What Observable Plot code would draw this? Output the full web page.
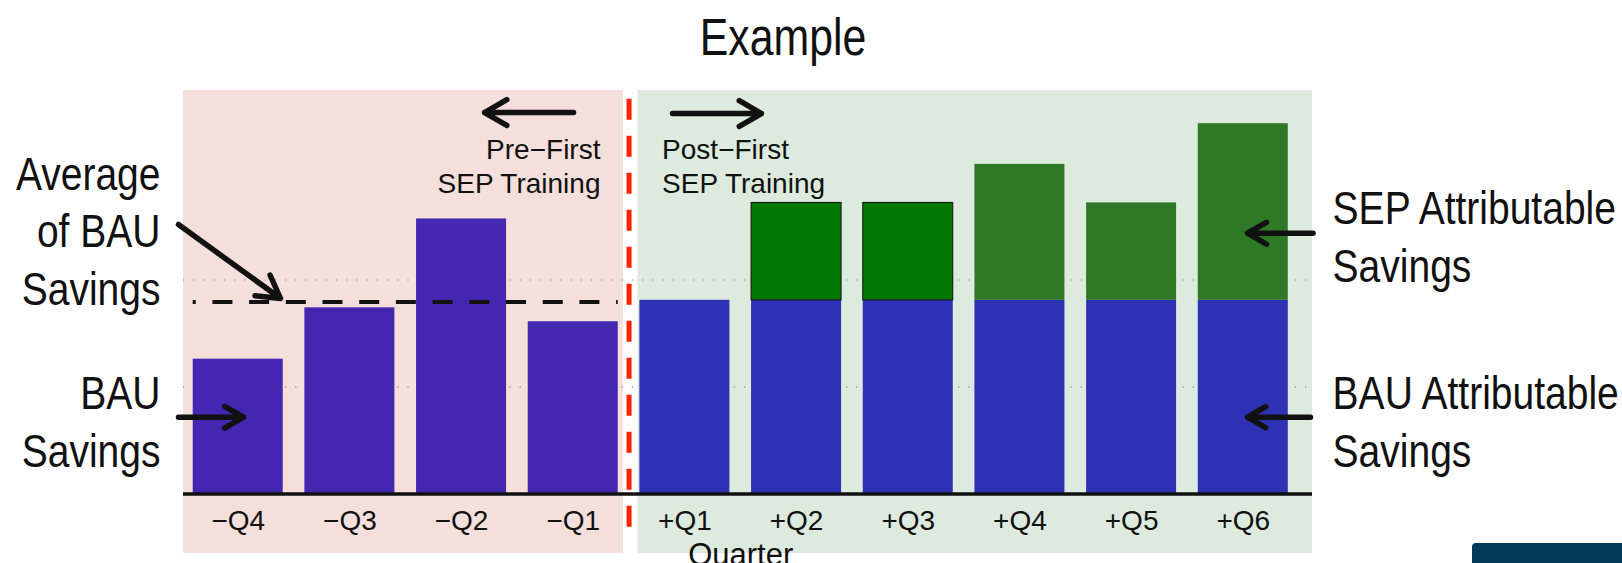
<!DOCTYPE html>
<html>
<head>
<meta charset="utf-8">
<script src="https://cdn.jsdelivr.net/npm/d3@7"></script>
<script src="https://cdn.jsdelivr.net/npm/@observablehq/plot@0.6"></script>
<style>
  body { margin: 0; background: #fff; }
  #wrap { position: relative; width: 1622px; height: 563px; overflow: hidden; }
  #title {
    position: absolute; left: 633px; width: 300px; top: 8px;
    text-align: center; line-height: 1;
    font: 51px "Liberation Sans", Arial, sans-serif;
    color: #111;
    transform: scaleX(0.84); transform-origin: 150px 0;
  }
  #badge {
    position: absolute; left: 1472px; top: 543px; width: 170px; height: 40px;
    background: #023a5b; border-radius: 4px;
  }
</style>
</head>
<body>
<div id="wrap">
  <div id="chart"></div>
  <div id="title">Example</div>
  <div id="badge"></div>
</div>
<script>
// Quarters before and after the first SEP training
const preQuarters = ["−Q4", "−Q3", "−Q2", "−Q1"];
const postQuarters = ["+Q1", "+Q2", "+Q3", "+Q4", "+Q5", "+Q6"];

// Business-as-usual savings observed before the training
const bauSavings = [1.26, 1.74, 2.57, 1.61];

// After the training: the BAU baseline part and the part attributed to SEP
const bauAttributable = [1.81, 1.81, 1.81, 1.81, 1.81, 1.81];
const sepAttributable = [0, 0.91, 0.91, 1.27, 0.91, 1.65];

// Dotted reference lines
const gridValues = [1, 2];

// Callout labels and their arrows
const calloutLabels = [
  {text: "Pre−First\nSEP Training", x: 3.244, y: 3.072, anchor: "end", size: 28, lh: 1.2},
  {text: "Post−First\nSEP Training", x: 3.796, y: 3.072, anchor: "start", size: 28, lh: 1.2},
  {text: "Average\nof BAU\nSavings", x: -0.696, y: 2.477, anchor: "end", size: 47, lh: 1.22},
  {text: "BAU\nSavings", x: -0.696, y: 0.697, anchor: "end", size: 47, lh: 1.245},
  {text: "SEP Attributable\nSavings", x: 9.80, y: 2.425, anchor: "start", size: 47, lh: 1.245},
  {text: "BAU Attributable\nSavings", x: 9.80, y: 0.697, anchor: "start", size: 47, lh: 1.245}
];
const calloutArrows = [
  {x1: 3.003, y1: 3.564, x2: 2.206, y2: 3.564},
  {x1: 3.889, y1: 3.555, x2: 4.686, y2: 3.555},
  {x1: -0.535, y1: 2.518, x2: 0.379, y2: 1.827},
  {x1: -0.535, y1: 0.718, x2: 0.047, y2: 0.718},
  {x1: 9.625, y1: 2.437, x2: 9.038, y2: 2.437},
  {x1: 9.602, y1: 0.718, x2: 9.038, y2: 0.718}
];

const quarters = [...preQuarters, ...postQuarters];
const pre = preQuarters.map((q, i) => ({q, i, value: bauSavings[i]}));
const post = postQuarters.map((q, j) => ({
  q, j, i: preQuarters.length + j,
  bau: bauAttributable[j], sep: sepAttributable[j]
}));
const avgBau = d3.mean(bauSavings);
const training = preQuarters.length - 0.5;   // boundary between the two periods
const half = 0.403;                            // half bar width, in quarter steps

const baseFont = '"Liberation Sans", Arial, sans-serif';
const condensedFont = '"Liberation Sans Condensed", "Liberation Sans", Arial, sans-serif';

const chart = Plot.plot({
  width: 1622,
  height: 563,
  marginLeft: 183,
  marginRight: 310,
  marginTop: 90,
  marginBottom: 10,
  x: {type: "linear", domain: [-0.49, 9.62], axis: null},
  y: {domain: [-0.555, 3.77], axis: null},
  style: {fontFamily: baseFont, fontSize: "28px", color: "#111", background: "transparent", overflow: "visible"},
  marks: [
    // period panels
    Plot.rect([0], {x1: -0.49, x2: training - 0.05, fill: "#f5dfda"}),
    Plot.rect([0], {x1: training + 0.08, x2: 9.62, fill: "#dcebdd"}),
    Plot.ruleY(gridValues, {stroke: "#888", strokeWidth: 1.2, strokeDasharray: "1.2,9"}),
    // BAU savings before training
    Plot.rectY(pre, {x1: d => d.i - half, x2: d => d.i + half, y1: 0, y2: "value", fill: "#4327b1"}),
    // BAU portion after training
    Plot.rectY(post, {x1: d => d.i - half, x2: d => d.i + half, y1: 0, y2: "bau", fill: "#2d31b3"}),
    // SEP portion after training
    Plot.rectY(post.filter(d => d.sep > 0 && d.j < 3), {
      x1: d => d.i - half, x2: d => d.i + half, y1: "bau", y2: d => d.bau + d.sep,
      fill: "#007800", stroke: "#111", strokeWidth: 1
    }),
    Plot.rectY(post.filter(d => d.sep > 0 && d.j >= 3), {
      x1: d => d.i - half, x2: d => d.i + half, y1: "bau", y2: d => d.bau + d.sep,
      fill: "#2e7826"
    }),
    // average of pre-training BAU savings
    Plot.ruleY([avgBau], {x1: -half, x2: preQuarters.length - 1 + half, stroke: "#111", strokeWidth: 4, strokeDasharray: "20,16.7", strokeDashoffset: 17}),
    // baseline
    Plot.ruleY([0], {stroke: "#111", strokeWidth: 3.5}),
    // first SEP training
    Plot.ruleX([training], {y1: -0.31, y2: 3.72, stroke: "#ff2200", strokeWidth: 5, strokeDasharray: "21,16"}),
    Plot.axisX({
      ticks: d3.range(quarters.length), tickFormat: i => quarters[i],
      tickSize: 0, tickPadding: 0, dy: -32.5, lineAnchor: "middle", fontSize: 28, label: null
    }),
    Plot.text(["Quarter"], {x: (quarters.length - 1) / 2, frameAnchor: "bottom", dy: -11, lineAnchor: "top", fontSize: 31}),
    Plot.arrow(calloutArrows, {x1: "x1", y1: "y1", x2: "x2", y2: "y2", stroke: "#111", strokeWidth: 5.5, headLength: 7}),
    ...calloutLabels.map(c => Plot.text([c.text], {
      x: c.x, y: c.y, textAnchor: c.anchor, lineAnchor: "middle",
      fontSize: c.size, lineHeight: c.lh, fill: "#111",
      fontFamily: c.size > 30 ? condensedFont : baseFont
    }))
  ]
});

// the large callouts are set in a condensed face: squeeze them horizontally
chart.querySelectorAll('g[font-family*="Condensed"] text').forEach(t => {
  const tr = t.getAttribute("transform") || "";
  t.setAttribute("transform", tr + " scale(0.83,1)");
});
document.getElementById("chart").append(chart);
</script>
</body>
</html>
